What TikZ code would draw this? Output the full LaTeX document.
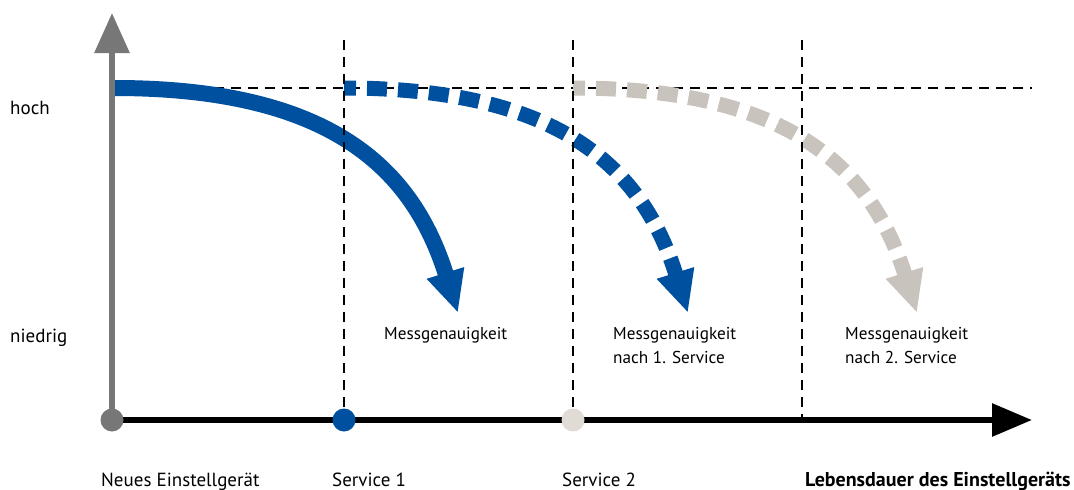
\documentclass[tikz,border=0pt]{standalone}
\usepackage{fontspec}
\setmainfont{PT Sans}
\usetikzlibrary{arrows.meta}
\definecolor{axgray}{RGB}{119,119,119}
\definecolor{vblue}{RGB}{0,80,160}
\definecolor{vbeige}{RGB}{200,195,188}
\definecolor{dotbeige}{RGB}{224,219,213}
\begin{document}
\begin{tikzpicture}[x=1pt,y=-1pt,
  guide/.style={black,line width=2.8pt,dash pattern=on 10pt off 7pt},
  lifecurve/.style={line width=16pt,-{Triangle[length=42pt,width=36pt]}},
  dashcurve/.style={lifecurve,line width=15pt,dash pattern=on 20pt off 11pt,dash phase=8pt},
  axisline/.style={line width=6pt},
  dot/.style={circle,inner sep=0pt,minimum size=23pt},
  lbl/.style={anchor=base west,inner sep=0pt,font=\fontsize{19}{22}\selectfont},
  msg/.style={anchor=base west,inner sep=0pt,align=left,font=\fontsize{17.2}{24}\selectfont}]
\useasboundingbox (0,0) rectangle (1074,490);
% coordinates
\coordinate (o) at (112,420);
\coordinate (ytip) at (112,13);
\coordinate (xtip) at (1032,420);
\coordinate (hl) at (112,88);
\coordinate (hr) at (1032,88);
\coordinate (v1t) at (344,40);
\coordinate (v1b) at (344,420);
\coordinate (v2t) at (573,40);
\coordinate (v2b) at (573,420);
\coordinate (v3t) at (802,40);
\coordinate (v3b) at (802,420);
\coordinate (s0) at (114,88);
\coordinate (t0) at (458,313);
\coordinate (s1) at (344,88);
\coordinate (t1) at (688,313);
\coordinate (s2) at (573,88);
\coordinate (t2) at (917,313);
% horizontal guide
\draw[guide] (hl) -- (hr);
% curves
\draw[lifecurve,vblue] (s0) .. controls +(218,0) and +(-45,-143.5) .. (t0);
\draw[dashcurve,vbeige] (s2) .. controls +(218,0) and +(-45,-143.5) .. (t2);
\draw[dashcurve,vblue] (s1) .. controls +(218,0) and +(-45,-143.5) .. (t1);
% vertical guides
\draw[guide] (v1t) -- (v1b);
\draw[guide] (v2t) -- (v2b);
\draw[guide] (v3t) -- (v3b);
% axes
\draw[axisline,black,-{Triangle[length=40pt,width=32pt]}] (o) -- (xtip);
\draw[axisline,axgray,-{Triangle[length=40pt,width=34pt]}] (o) -- (ytip);
% dots
\node[dot,fill=axgray] (d0) at (o) {};
\node[dot,fill=vblue] (d1) at (v1b) {};
\node[dot,fill=dotbeige] (d2) at (v2b) {};
% labels
\node[lbl] (hoch) at (10,114) {hoch};
\node[lbl] (niedrig) at (10,342) {niedrig};
\node[msg] (m0) at (384,339) {Messgenauigkeit};
\node[msg] (m1) at (613,363) {Messgenauigkeit\\nach 1. Service};
\node[msg] (m2) at (845,363) {Messgenauigkeit\\nach 2. Service};
\node[lbl] (l0) at (101,486) {Neues Einstellgerät};
\node[lbl] (l1) at (332,486) {Service 1};
\node[lbl] (l2) at (562,486) {Service 2};
\node[lbl,font=\fontsize{20}{22}\selectfont\bfseries] (l3) at (805,486) {Lebensdauer des Einstellgeräts};
\end{tikzpicture}
\end{document}
